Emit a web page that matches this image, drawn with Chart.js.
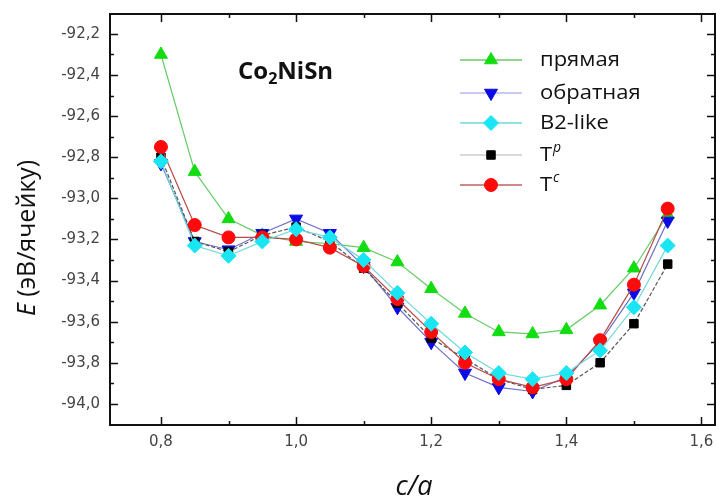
<!DOCTYPE html>
<html>
<head>
<meta charset="utf-8">
<script src="https://cdn.jsdelivr.net/npm/chart.js@4.4.1/dist/chart.umd.min.js"></script>
<style>
html,body{margin:0;padding:0;background:#fff;}
#wrap{width:716px;height:502px;position:relative;}
</style>
</head>
<body>
<div id="wrap"><canvas id="c" width="716" height="502"></canvas></div>
<script>
// ---- data ----
const cOverA = [0.80, 0.85, 0.90, 0.95, 1.00, 1.05, 1.10, 1.15, 1.20, 1.25, 1.30, 1.35, 1.40, 1.45, 1.50, 1.55];
const pryamaya  = [-92.30, -92.87, -93.10, -93.18, -93.21, -93.22, -93.24, -93.31, -93.44, -93.56, -93.65, -93.66, -93.64, -93.52, -93.34, -93.08];
const obratnaya = [-92.83, -93.21, -93.25, -93.17, -93.10, -93.17, -93.33, -93.53, -93.70, -93.85, -93.92, -93.94, -93.87, -93.70, -93.46, -93.11];
const b2like    = [-92.82, -93.23, -93.28, -93.21, -93.15, -93.19, -93.30, -93.46, -93.61, -93.75, -93.85, -93.88, -93.85, -93.74, -93.53, -93.23];
const tP        = [-92.80, -93.21, -93.26, -93.18, -93.14, -93.21, -93.34, -93.51, -93.68, -93.78, -93.88, -93.93, -93.91, -93.80, -93.61, -93.32];
const tC        = [-92.75, -93.13, -93.19, -93.19, -93.20, -93.24, -93.33, -93.49, -93.65, -93.80, -93.88, -93.92, -93.88, -93.69, -93.42, -93.05];
const seriesLabels = ['прямая', 'обратная', 'B2-like', 'T', 'T'];
const seriesSup    = ['', '', '', 'p', 'c'];
const xTicks = [0.8, 1.0, 1.2, 1.4, 1.6];
const xMinor = [0.9, 1.1, 1.3, 1.5];
const yTicks = [-94.0, -93.8, -93.6, -93.4, -93.2, -93.0, -92.8, -92.6, -92.4, -92.2];
const yMinor = [-93.9, -93.7, -93.5, -93.3, -93.1, -92.9, -92.7, -92.5, -92.3];

const pts = arr => arr.map((v, i) => ({x: cOverA[i], y: v}));

const styles = [
  {line:'#66cc66', fill:'#11dd11', border:'#11dd11', ps:'triangle', rot:0,   r:7.5, order:5, dash:[], leg:'#66cc66'},
  {line:'#7070c8', fill:'#0a0ae6', border:'#0a0ae6', ps:'triangle', rot:180, r:7.5, order:4, dash:[], leg:'#b8b8ec'},
  {line:'#6fd8dc', fill:'#19e6f2', border:'#19e6f2', ps:'rectRot',  rot:0,   r:7.5, order:1, dash:[], leg:'#6fd8dc'},
  {line:'#555555', fill:'#000000', border:'#000000', ps:'rect',     rot:0,   r:6,   order:3, dash:[4,2], leg:'#cccccc'},
  {line:'#b84a4a', fill:'#ff0a0a', border:'#ff0a0a', ps:'circle',   rot:0,   r:6.5, order:2, dash:[], leg:'#c06060'}
];
const seriesData = [pryamaya, obratnaya, b2like, tP, tC];

const datasets = seriesData.map((arr, i) => ({
  label: seriesLabels[i] + seriesSup[i],
  data: pts(arr),
  borderColor: styles[i].line,
  borderWidth: 1.2,
  borderDash: styles[i].dash,
  backgroundColor: styles[i].fill,
  pointBackgroundColor: styles[i].fill,
  pointBorderColor: styles[i].border,
  pointBorderWidth: 1,
  pointStyle: styles[i].ps,
  pointRotation: styles[i].rot,
  pointRadius: styles[i].r,
  order: styles[i].order,
  tension: 0,
  fill: false
}));

const fmt = v => (Math.round(v * 10) / 10).toFixed(1).replace('.', ',');

function stretchText(ctx, txt, x, y, sx) {
  ctx.save();
  ctx.translate(x, y);
  ctx.scale(sx, 1);
  ctx.fillText(txt, 0, 0);
  ctx.restore();
}

const decor = {
  id: 'decor',
  afterDraw(chart) {
    const ctx = chart.ctx;
    const a = chart.chartArea;
    const xs = chart.scales.x, ys = chart.scales.y;
    ctx.save();
    // frame
    ctx.strokeStyle = '#111';
    ctx.lineWidth = 2;
    ctx.strokeRect(a.left, a.top, a.right - a.left, a.bottom - a.top);
    ctx.lineWidth = 1.5;
    ctx.beginPath();
    const tick = (x1, y1, x2, y2) => { ctx.moveTo(x1, y1); ctx.lineTo(x2, y2); };
    xTicks.forEach(v => { const p = Math.round(xs.getPixelForValue(v)) + 0.5; tick(p, a.bottom, p, a.bottom - 8); tick(p, a.top, p, a.top + 8); });
    xMinor.forEach(v => { const p = Math.round(xs.getPixelForValue(v)) + 0.5; tick(p, a.bottom, p, a.bottom - 4); tick(p, a.top, p, a.top + 4); });
    yTicks.forEach(v => { const p = Math.round(ys.getPixelForValue(v)) + 0.5; tick(a.left, p, a.left + 8, p); tick(a.right, p, a.right - 8, p); });
    yMinor.forEach(v => { const p = Math.round(ys.getPixelForValue(v)) + 0.5; tick(a.left, p, a.left + 4, p); tick(a.right, p, a.right - 4, p); });
    ctx.stroke();

    // title Co2NiSn
    ctx.fillStyle = '#111';
    ctx.textBaseline = 'alphabetic';
    ctx.textAlign = 'left';
    let tx = 238, ty = 79;
    ctx.font = 'bold 24px "Open Sans"';
    ctx.fillText('Co', tx, ty); tx += ctx.measureText('Co').width;
    ctx.font = 'bold 16px "Open Sans"';
    ctx.fillText('2', tx, ty + 5); tx += ctx.measureText('2').width;
    ctx.font = 'bold 24px "Open Sans"';
    ctx.fillText('NiSn', tx, ty);

    // legend
    const rows = [60, 93, 123, 155, 185];
    chart.data.datasets.forEach((ds, i) => {
      const y = rows[i];
      ctx.strokeStyle = styles[i].leg;
      ctx.lineWidth = 1.3;
      ctx.setLineDash([]);
      ctx.beginPath(); ctx.moveTo(460, y); ctx.lineTo(522, y); ctx.stroke();
      ctx.fillStyle = styles[i].fill; ctx.strokeStyle = styles[i].border;
      ctx.lineWidth = 1;
      Chart.helpers.drawPoint(ctx, {pointStyle: styles[i].ps, rotation: styles[i].rot, radius: styles[i].r, borderWidth: 1}, 491, y);
      ctx.fillStyle = '#111';
      ctx.font = '20px "Open Sans"';
      ctx.textBaseline = 'middle';
      ctx.textAlign = 'left';
      stretchText(ctx, seriesLabels[i], 540, y, 1.1);
      if (seriesSup[i]) {
        const w = ctx.measureText(seriesLabels[i]).width * 1.1;
        ctx.font = 'italic 14px "Open Sans"';
        ctx.fillText(seriesSup[i], 540 + w + 1, y - 7);
      }
    });

    // y axis title
    ctx.save();
    ctx.translate(28, 238);
    ctx.rotate(-Math.PI / 2);
    ctx.textBaseline = 'middle';
    ctx.fillStyle = '#111';
    ctx.textAlign = 'left';
    const e = 'E';
    ctx.font = '25px "Open Sans"';
    const rest = ' (эВ/ячейку)';
    const wRest = ctx.measureText(rest).width;
    ctx.font = 'italic 25px "Open Sans"';
    const wE = ctx.measureText(e).width;
    const start = -(wE + wRest) / 2;
    ctx.fillText(e, start, 0);
    ctx.font = '25px "Open Sans"';
    ctx.fillText(rest, start + wE, 0);
    ctx.restore();

    // x axis title
    ctx.font = 'italic 27px "Open Sans"';
    ctx.textAlign = 'center';
    ctx.textBaseline = 'middle';
    ctx.fillStyle = '#111';
    ctx.fillText('c/a', 414, 487);
    ctx.restore();
  }
};

new Chart(document.getElementById('c'), {
  type: 'line',
  data: { datasets },
  options: {
    responsive: false,
    animation: false,
    devicePixelRatio: 1,
    layout: { autoPadding: false, padding: { left: 0, top: 14, right: 1, bottom: 0 } },
    plugins: { legend: { display: false }, tooltip: { enabled: false }, title: { display: false } },
    scales: {
      x: {
        type: 'linear',
        min: 0.7246, max: 1.62,
        afterFit: s => { s.height = 77; s.paddingLeft = 0; s.paddingRight = 0; },
        afterBuildTicks: s => { s.ticks = xTicks.map(v => ({value: v})); },
        grid: { display: false, drawTicks: false },
        border: { display: false },
        ticks: { callback: v => fmt(v), padding: 8, color: '#444', font: { family: 'DejaVu Sans', size: 15 }, maxRotation: 0, autoSkip: false }
      },
      y: {
        type: 'linear',
        min: -94.103, max: -92.103,
        afterFit: s => { s.width = 110; s.paddingTop = 0; s.paddingBottom = 0; },
        afterBuildTicks: s => { s.ticks = yTicks.map(v => ({value: v})); },
        grid: { display: false, drawTicks: false },
        border: { display: false },
        ticks: { callback: v => fmt(v), padding: 10, color: '#444', font: { family: 'DejaVu Sans', size: 15 }, autoSkip: false }
      }
    }
  },
  plugins: [decor]
});
</script>
</body>
</html>
